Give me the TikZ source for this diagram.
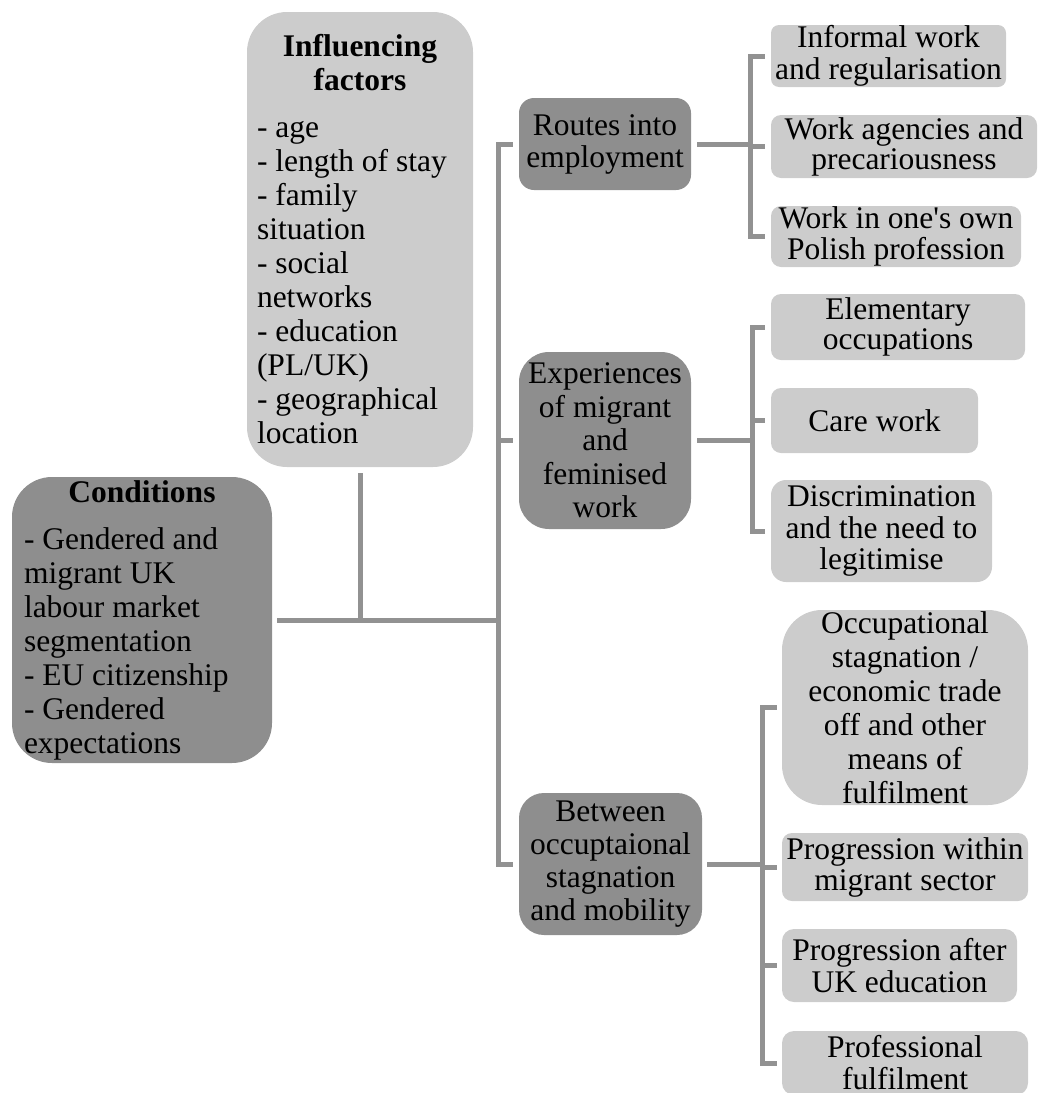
\documentclass[tikz,border=0pt]{standalone}
\usepackage{fontspec}
\setmainfont{Liberation Serif}
\definecolor{darkfill}{HTML}{8E8E8E}
\definecolor{lightfill}{HTML}{CCCCCC}
\definecolor{linkgray}{HTML}{929292}
\begin{document}
\begin{tikzpicture}[x=1pt,y=-1pt,
  boxbase/.style={inner sep=0pt, anchor=center, align=center,
    font={\fontsize{31.5}{32}\selectfont}},
  darkbox/.style={boxbase, fill=darkfill},
  lightbox/.style={boxbase, fill=lightfill},
  conn/.style={draw=linkgray, line width=5pt}]
\useasboundingbox (0,0) rectangle (1038,1093);

% left column
\node[lightbox, rounded corners=40pt, minimum width=226pt, minimum height=455pt,
      text width=206pt, align=flush left, font={\fontsize{31.5}{34}\selectfont}] (infl) at (360,239.5)
  {{\centering\bfseries Influencing\\factors\par}\vspace{13pt}
   - age\\- length of stay\\- family\\situation\\- social\\networks\\- education\\(PL/UK)\\- geographical\\location};
\node[darkbox, rounded corners=40pt, minimum width=260pt, minimum height=286pt,
      text width=236pt, align=flush left, font={\fontsize{31.5}{34}\selectfont}] (cond) at (142,620)
  {{\centering\bfseries Conditions\par}\vspace{13pt}
   - Gendered and\\migrant UK\\labour market\\segmentation\\- EU citizenship\\- Gendered\\expectations};

% middle column
\node[darkbox, rounded corners=15pt, minimum width=172pt, minimum height=92pt] (routes) at (605,144)
  {Routes into\\employment};
\node[darkbox, rounded corners=30pt, minimum width=172pt, minimum height=177pt,
      font={\fontsize{31.5}{33.5}\selectfont}] (exper) at (605,440.5)
  {Experiences\\of migrant\\and\\feminised\\work};
\node[darkbox, rounded corners=25pt, minimum width=183pt, minimum height=142pt,
      font={\fontsize{31.5}{33}\selectfont}] (betw) at (610.5,864)
  {Between\\occuptaional\\stagnation\\and mobility};

% right column
\node[lightbox, rounded corners=8pt, minimum width=235pt, minimum height=62pt] (r1) at (888.5,56)
  {Informal work\\and regularisation};
\node[lightbox, rounded corners=10pt, minimum width=266pt, minimum height=63pt,
      font={\fontsize{31.5}{30}\selectfont}] (r2) at (904,146.5)
  {Work agencies and\\precariousness};
\node[lightbox, rounded corners=10pt, minimum width=250pt, minimum height=61pt,
      font={\fontsize{31.5}{31}\selectfont}] (r3) at (896,236.5)
  {Work in one\textquotesingle s own\\Polish profession};

\node[lightbox, rounded corners=10pt, minimum width=254pt, minimum height=66pt,
      font={\fontsize{31.5}{30}\selectfont}] (e1) at (898,327)
  {Elementary\\occupations};
\node[lightbox, rounded corners=10pt, minimum width=207pt, minimum height=65pt] (e2) at (874.5,420.5)
  {Care work};
\node[lightbox, rounded corners=15pt, minimum width=221pt, minimum height=102pt,
      font={\fontsize{31.5}{31.5}\selectfont}] (e3) at (881.5,531)
  {Discrimination\\and the need to\\legitimise};

\node[lightbox, rounded corners=40pt, minimum width=246pt, minimum height=195pt,
      font={\fontsize{31.5}{34}\selectfont}] (b1) at (905,707.5)
  {Occupational\\stagnation /\\economic trade\\off and other\\means of\\fulfilment};
\node[lightbox, rounded corners=10pt, minimum width=246pt, minimum height=68pt,
      font={\fontsize{31.5}{31}\selectfont}] (b2) at (905,867)
  {Progression within\\migrant sector};
\node[lightbox, rounded corners=12pt, minimum width=235pt, minimum height=73pt] (b3) at (899.5,965.5)
  {Progression after\\UK education};
\node[lightbox, rounded corners=12pt, minimum width=246pt, minimum height=64pt] (b4) at (905,1063)
  {Professional\\fulfilment};

% junction columns
\coordinate (spine) at (498,0);
\coordinate (g1) at (750,0);
\coordinate (g2) at (752,0);
\coordinate (g3) at (762,0);

% conditions and influencing factors feed the spine
\draw[conn] ([xshift=5pt]cond.east) -- (spine |- cond.east);
\draw[conn] ([yshift=-6pt]infl.south) -- (infl.south |- cond.east);
\draw[conn] ([xshift=-6pt]routes.west) -| (spine |- betw.west) -- ([xshift=-6pt]betw.west);
\draw[conn] ([xshift=-6pt]exper.west) -- (spine |- exper.west);

% routes into employment
\draw[conn] ([xshift=6pt]routes.east) -- (g1 |- routes.east);
\draw[conn] ([xshift=-6pt]r1.west) -| (g1 |- r3.west) -- ([xshift=-6pt]r3.west);
\draw[conn] (g1 |- r2.west) -- ([xshift=-6pt]r2.west);

% experiences of migrant and feminised work
\draw[conn] ([xshift=6pt]exper.east) -- (g2 |- exper.east);
\draw[conn] ([xshift=-6pt]e1.west) -| (g2 |- e3.west) -- ([xshift=-6pt]e3.west);
\draw[conn] (g2 |- e2.west) -- ([xshift=-6pt]e2.west);

% between stagnation and mobility
\draw[conn] ([xshift=5pt]betw.east) -- (g3 |- betw.east);
\draw[conn] ([xshift=-5pt]b1.west) -| (g3 |- b4.west) -- ([xshift=-5pt]b4.west);
\draw[conn] (g3 |- b2.west) -- ([xshift=-5pt]b2.west);
\draw[conn] (g3 |- b3.west) -- ([xshift=-5pt]b3.west);
\end{tikzpicture}
\end{document}
